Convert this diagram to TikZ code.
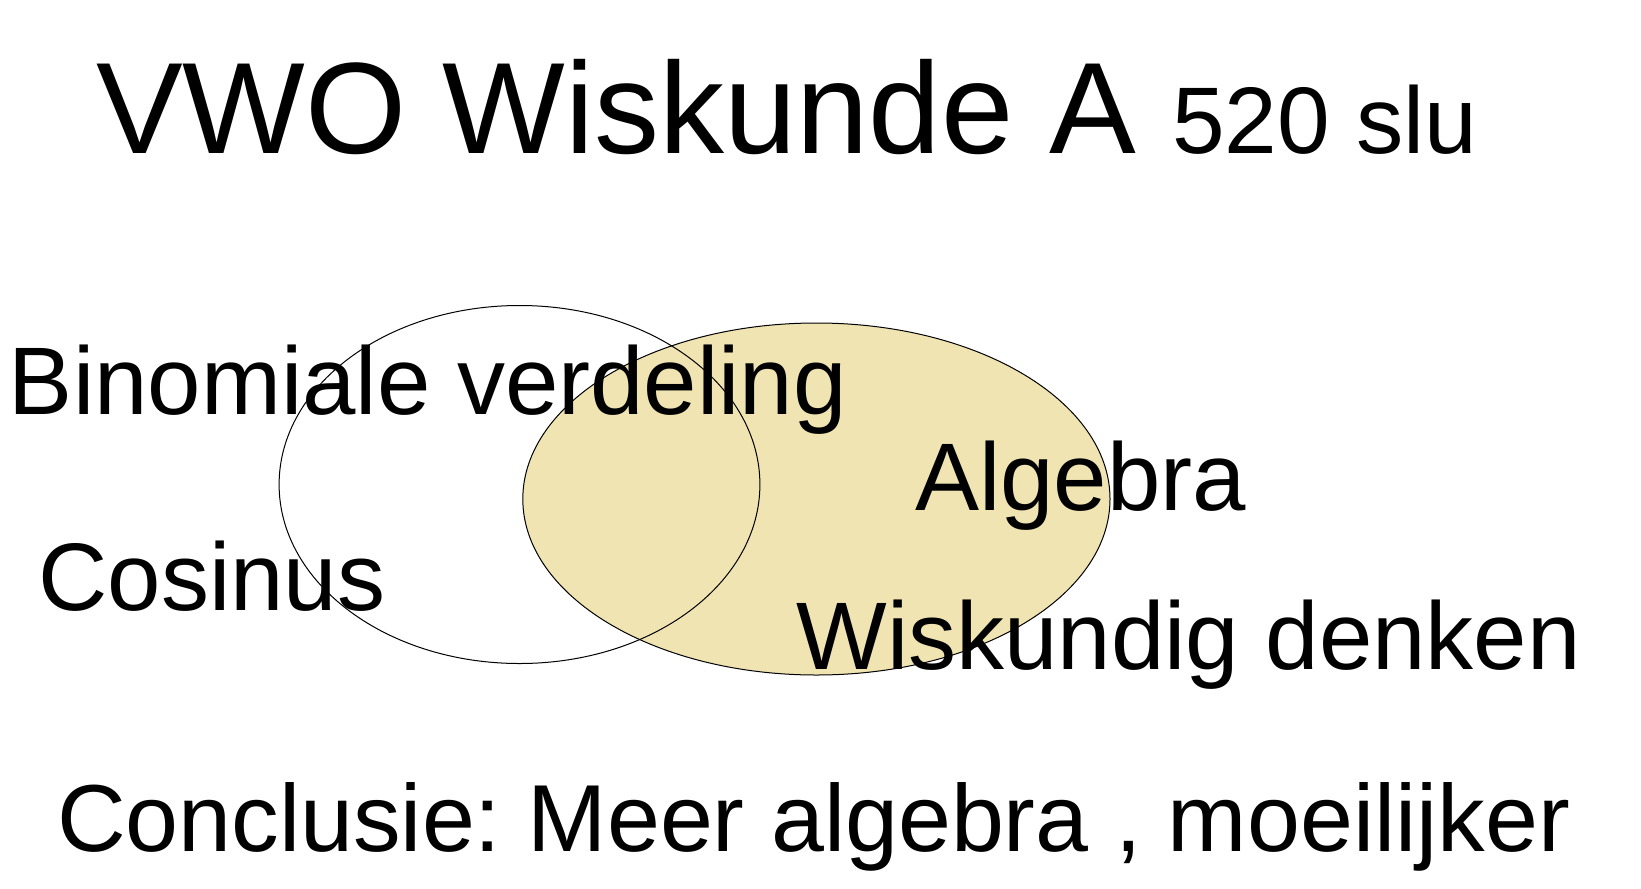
\documentclass[tikz,border=0pt]{standalone}
\usepackage{fontspec}
\setmainfont{Liberation Sans}
\usepackage{tikz}
\definecolor{vennfill}{RGB}{240,228,178}
\frenchspacing

\begin{document}
\begin{tikzpicture}[x=0.5pt,y=-0.5pt,
    lbl/.style={anchor=base west,inner sep=0pt,outer sep=0pt,font=\fontsize{48}{56}\selectfont},
    venn/.style={line width=0.5pt}]
        \useasboundingbox (0,0) rectangle (1641,888);

        % the two sets
        \draw[venn,fill=vennfill] (816.4,499) ellipse [x radius=146.8pt,y radius=88pt];
        \draw[venn] (519.5,484.5) ellipse [x radius=120.2pt,y radius=89.5pt];

        \node[lbl,font=\fontsize{65}{72}\selectfont] (title) at (96,153)
            {VWO Wiskunde A {\fontsize{47.3}{56}\selectfont 520 slu}};

        \node[lbl] (binom) at (9,414) {Binomiale verdeling};
        \node[lbl] (cos) at (38.5,610) {Cosinus};
        \node[lbl] (alg) at (915,510.5) {Algebra};
        \node[lbl] (denken) at (796.5,669.5) {Wiskundig denken};

        \node[lbl,font=\fontsize{47.6}{56}\selectfont] (concl) at (57,851.5)
            {Conclusie: Meer algebra , moeilijker};
\end{tikzpicture}
\end{document}
